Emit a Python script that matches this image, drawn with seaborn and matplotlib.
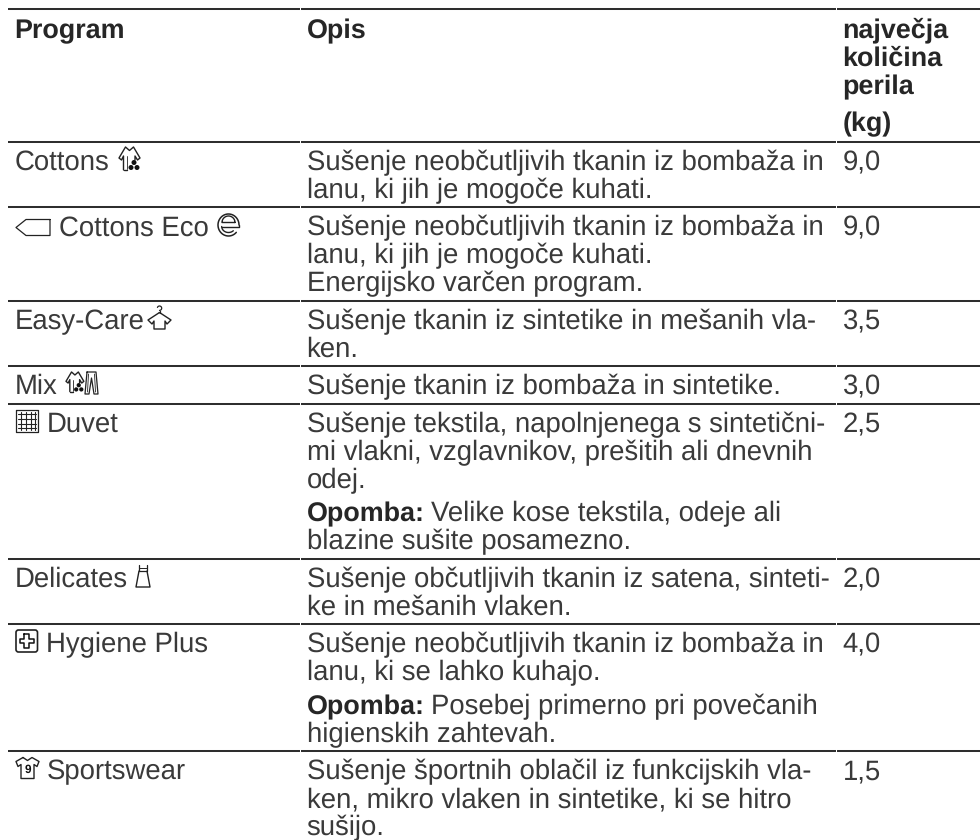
import numpy as np
import matplotlib
matplotlib.use("Agg")
import matplotlib.pyplot as plt
from matplotlib.patches import FancyBboxPatch, Circle
import seaborn as sns

# ---- table content ----
headers_program = ["Program"]
headers_opis = ["Opis"]
headers_load = ["največja", "količina", "perila", "(kg)"]

programs = ["Cottons", "Cottons Eco", "Easy-Care", "Mix", "Duvet",
            "Delicates", "Hygiene Plus", "Sportswear"]
loads = ["9,0", "9,0", "3,5", "3,0", "2,5", "2,0", "4,0", "1,5"]
descriptions = [
    ["Sušenje neobčutljivih tkanin iz bombaža in",
     "lanu, ki jih je mogoče kuhati."],
    ["Sušenje neobčutljivih tkanin iz bombaža in",
     "lanu, ki jih je mogoče kuhati.",
     "Energijsko varčen program."],
    ["Sušenje tkanin iz sintetike in mešanih vla-",
     "ken."],
    ["Sušenje tkanin iz bombaža in sintetike."],
    ["Sušenje tekstila, napolnjenega s sintetični-",
     "mi vlakni, vzglavnikov, prešitih ali dnevnih",
     "odej.",
     "Opomba: Velike kose tekstila, odeje ali",
     "blazine sušite posamezno."],
    ["Sušenje občutljivih tkanin iz satena, sinteti-",
     "ke in mešanih vlaken."],
    ["Sušenje neobčutljivih tkanin iz bombaža in",
     "lanu, ki se lahko kuhajo.",
     "Opomba: Posebej primerno pri povečanih",
     "higienskih zahtevah."],
    ["Sušenje športnih oblačil iz funkcijskih vla-",
     "ken, mikro vlaken in sintetike, ki se hitro",
     "sušijo."],
]
NOTE = "Opomba:"

# ---- layout and style ----
FAMILY = "Liberation Sans"
BODY_PT = 19.85
HEAD_PT = 19.4
INK = "#3a3a3a"
HEAD_INK = "#262626"
RULE = "#2e2e2e"
X_COLS = [14, 306.5, 842.5]
LINE_H = 28.0
ROW_PAD = 9.5
NOTE_GAP = 5.5
FIRST_BASE = 28.5

sns.set_theme(style="white")
plt.rcParams["font.family"] = [FAMILY, "DejaVu Sans"]
plt.rcParams["text.hinting"] = "no_hinting"

fig = plt.figure(figsize=(9.8, 8.4), dpi=100, facecolor="white")
ax = fig.add_axes([0, 0, 1, 1])
ax.set_xlim(0, 980)
ax.set_ylim(840, 0)
ax.set_xticks([])
ax.set_yticks([])
sns.despine(ax=ax, left=True, bottom=True, top=True, right=True)


def rule(y):
    for x0, x1 in [(8, 300), (301, 836), (837, 980)]:
        ax.plot([x0, x1], [y, y], color=RULE, lw=1.45, solid_capstyle="butt")


def txt(x, y, s, bold=False, color=None):
    return ax.text(x, y, s, fontsize=HEAD_PT if bold else BODY_PT,
                   fontweight="bold" if bold else "normal",
                   color=color or (HEAD_INK if bold else INK),
                   va="baseline", ha="left", family=FAMILY)


def line(pts, lw=1.0, closed=False, color="#222222"):
    p = np.array(pts, dtype=float)
    if closed:
        p = np.vstack([p, p[0]])
    ax.plot(p[:, 0], p[:, 1], color=color, lw=lw, solid_joinstyle="round",
            solid_capstyle="round")


# ---- small program symbols ----
def icon_cotton(x, y, k=1.0):
    P = lambda pts: [(x + a * k, y + b * k) for a, b in pts]
    line(P([(4.5, 23), (4.5, 9), (2.5, 13), (0, 11), (6.5, 0), (10.5, 3.5),
            (14.5, 0), (21, 11), (18.5, 13), (16, 9), (16, 13)]), 1.0)
    line(P([(4.5, 23), (8, 23)]), 1.0)
    line(P([(8, 9), (8, 22)]), 0.6)
    for cx, cy in [(15, 15.5), (12, 20.5), (18, 20.5)]:
        ax.add_patch(Circle((x + cx * k, y + cy * k), 2.5 * k, color="#111111", lw=0))


def icon_trousers(x, y):
    line([(x + 2, y), (x + 11, y), (x + 13, y + 22), (x + 9, y + 22),
          (x + 6.5, y + 6), (x + 4, y + 22), (x, y + 22)], 0.9, closed=True)
    line([(x + 3.5, y + 2), (x + 2.5, y + 20)], 0.6)
    line([(x + 9.5, y + 2), (x + 10.5, y + 20)], 0.6)


def icon_tag(x, y):
    line([(x + 34, y), (x + 10, y), (x, y + 8), (x + 10, y + 16), (x + 34, y + 16)],
         0.9, closed=True)


def icon_eco(x, y):
    cx, cy = x + 10.5, y + 11
    t = np.radians(np.linspace(0, 318, 60))
    line(np.c_[cx + 10.5 * np.cos(t), cy + 1 - 11 * np.sin(t)], 1.1)
    t = np.radians(np.linspace(0, 180, 30))
    line(np.c_[cx + 6.5 * np.cos(t), cy - 1.5 - 6.5 * np.sin(t)], 1.0, closed=True)
    t = np.radians(np.linspace(180, 315, 30))
    line(np.c_[cx + 6.8 * np.cos(t), cy + 2.5 - 6 * np.sin(t)], 1.0)
    line([(cx - 6.8, cy + 2.5), (cx + 10.5, cy + 2.5), (cx + 10.5, cy + 1)], 1.0)


def icon_easy(x, y):
    c = x + 11.5
    t = np.radians(np.linspace(160, -90, 20))
    line(np.c_[c + 2.2 * np.cos(t), y + 2.2 - 2.2 * np.sin(t)], 0.9)
    line([(c, y + 4.5), (c, y + 6.5)], 0.9)
    line([(c, y + 6.5), (x, y + 14), (x + 4, y + 18), (x + 6, y + 15), (x + 6, y + 23),
          (x + 17, y + 23), (x + 17, y + 15), (x + 19, y + 18), (x + 23, y + 14)], 1.0,
         closed=True)


def icon_duvet(x, y):
    line([(x, y), (x + 22, y), (x + 22, y + 22), (x, y + 22)], 0.9, closed=True)
    for d in [5, 9.5, 14.5, 19]:
        line([(x + d, y + 2), (x + d, y + 20)], 0.8)
        line([(x + 2, y + d - 1), (x + 20, y + d - 1)], 0.8)


def icon_dress(x, y):
    line([(x + 3, y), (x + 3, y + 6), (x + 11, y + 6), (x + 11, y)], 0.9)
    line([(x + 3, y + 6), (x, y + 22), (x + 14, y + 22), (x + 11, y + 6)], 1.0)
    line([(x + 3, y + 3), (x + 11, y + 3)], 0.7)


def icon_hygiene(x, y):
    ax.add_patch(FancyBboxPatch((x, y), 21.5, 22, boxstyle="round,pad=0,rounding_size=2.5",
                                fc="none", ec="#222222", lw=1.2))
    cx, cy, a, b = x + 10.8, y + 11, 7, 2.4
    line([(cx - b, cy - a), (cx + b, cy - a), (cx + b, cy - b), (cx + a, cy - b), (cx + a, cy + b),
          (cx + b, cy + b), (cx + b, cy + a), (cx - b, cy + a), (cx - b, cy + b), (cx - a, cy + b),
          (cx - a, cy - b), (cx - b, cy - b)], 1.1, closed=True, color="#111111")


def icon_sport(x, y):
    line([(x + 7, y), (x + 11.5, y + 3), (x + 16, y), (x + 23, y + 4), (x + 21, y + 9), (x + 18, y + 7),
          (x + 18, y + 21), (x + 5, y + 21), (x + 5, y + 7), (x + 2, y + 9), (x, y + 4)], 1.0, closed=True)
    ax.text(x + 11.5, y + 15, "9", fontsize=8.5, ha="center", va="baseline",
            fontweight="bold", color="#111111", family=FAMILY)


# ---- header ----
rule(9)
txt(X_COLS[0], 38, headers_program[0], bold=True)
txt(X_COLS[1], 38, headers_opis[0], bold=True)
for yy, s in zip([37.5, 66, 94, 131], headers_load):
    txt(X_COLS[2], yy, s, bold=True)

# ---- body ----
fig.canvas.draw()
renderer = fig.canvas.get_renderer()
name_x = dict(zip(programs, [14.5, 58.5, 14.5, 14.5, 46.5, 14.5, 45.5, 46.5]))
y = 141.5
tops = []
for name, lines_, load in zip(programs, descriptions, loads):
    rule(y)
    tops.append(y)
    txt(name_x[name], y + FIRST_BASE, name)
    txt(X_COLS[2], y + FIRST_BASE, load)
    base = y + FIRST_BASE
    gaps = 0
    for s in lines_:
        if s.startswith(NOTE):
            base += NOTE_GAP
            gaps += 1
            head = txt(X_COLS[1], base, NOTE, bold=True)
            w = head.get_window_extent(renderer).width
            txt(X_COLS[1] + w + 7, base, s[len(NOTE):].strip())
        else:
            txt(X_COLS[1], base, s)
        base += LINE_H
    y += len(lines_) * LINE_H + ROW_PAD + gaps * NOTE_GAP

t = dict(zip(programs, tops))
icon_cotton(119, t["Cottons"] + 5.5)
icon_tag(16, t["Cottons Eco"] + 12.5)
icon_eco(218, t["Cottons Eco"] + 6)
icon_easy(148, t["Easy-Care"] + 5.5)
icon_cotton(66, t["Mix"] + 6, k=0.85)
icon_trousers(85, t["Mix"] + 6)
icon_duvet(16, t["Duvet"] + 6.5)
icon_dress(136, t["Delicates"] + 6.5)
icon_hygiene(16, t["Hygiene Plus"] + 6)
icon_sport(16, t["Sportswear"] + 6.5)

fig.savefig("out.png", dpi=100, facecolor="white")
